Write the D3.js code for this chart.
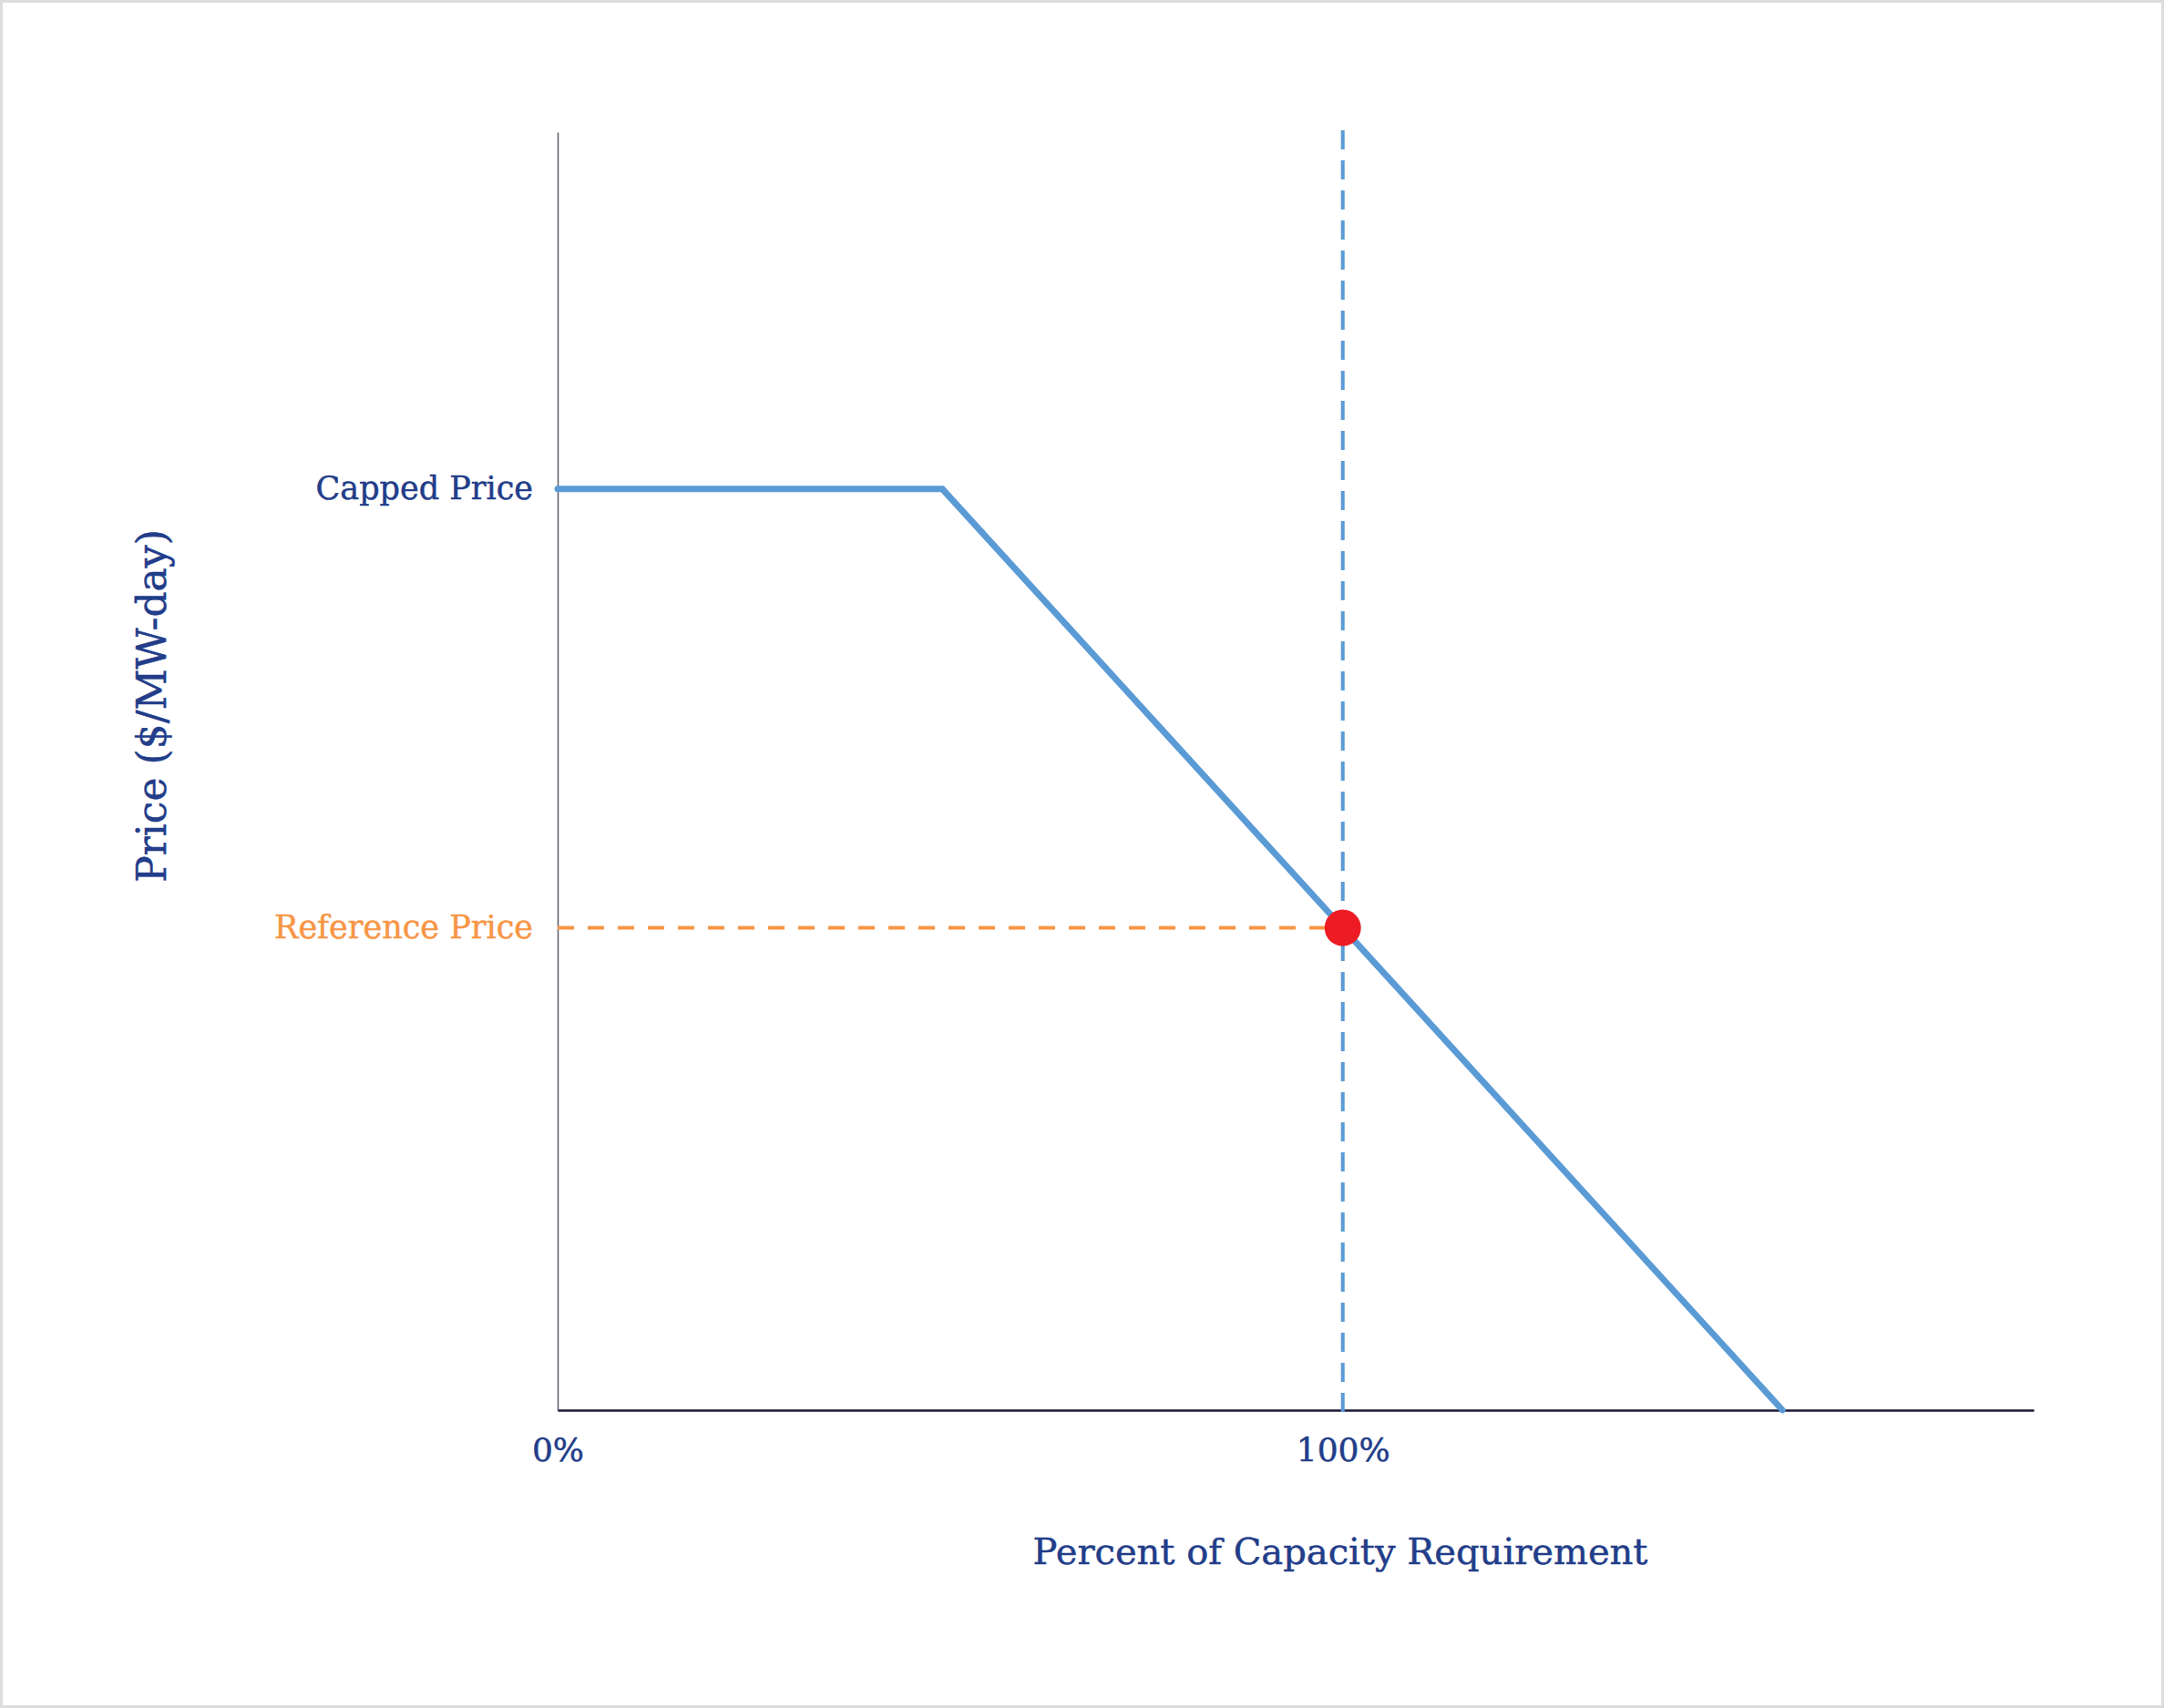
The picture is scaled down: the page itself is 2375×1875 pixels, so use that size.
<!DOCTYPE html>
<html>
<head>
<meta charset="utf-8">
<script src="https://cdn.jsdelivr.net/npm/d3@7"></script>
<style>
  body { margin: 0; background: #fff; }
  svg text { font-family: 'DejaVu Serif', serif; }
</style>
</head>
<body>
<div id="chart"></div>
<script>
// Demand curve: percent of capacity requirement vs price (relative to reference price)
const curvePct = [0, 49, 100, 156];
const curvePrice = [1.91, 1.91, 1.0, 0];

// Named price levels shown on the y axis
const priceLevels = [1.91, 1.0];
const priceLabels = ['Capped Price', 'Reference Price'];

// X ticks
const xTicks = [0, 100];

// Reference point
const refPoint = { pct: 100, price: 1.0 };

const width = 2375;
const height = 1875;
const margin = { top: 145, right: 143, bottom: 327, left: 612 };

const navy = '#223d89';
const orange = '#f79646';
const blue = '#5b9bd5';

const svg = d3.select('#chart')
    .append('svg')
    .attr('width', width)
    .attr('height', height);

// light frame around the page
svg.append('rect')
    .attr('x', 1.5)
    .attr('y', 1.5)
    .attr('width', width - 3)
    .attr('height', height - 3)
    .attr('fill', '#fff')
    .attr('stroke', '#dcdcdc')
    .attr('stroke-width', 3);

const x = d3.scaleLinear()
    .domain([0, 188])
    .range([margin.left, width - margin.right]);

const y = d3.scaleLinear()
    .domain([0, 2.65])
    .range([height - margin.bottom, margin.top]);

// y axis
const yAxis = svg.append('g')
    .attr('transform', `translate(${margin.left},0)`)
    .call(d3.axisLeft(y)
        .tickValues(priceLevels)
        .tickSize(0)
        .tickPadding(27)
        .tickFormat((d, i) => priceLabels[i]));

yAxis.select('.domain')
    .attr('stroke', '#5a5a66')
    .attr('stroke-width', 1.5);

yAxis.selectAll('text')
    .attr('font-size', 35)
    .attr('font-family', 'DejaVu Serif')
    .attr('fill', (d, i) => i === 0 ? navy : orange)
    .attr('stroke', (d, i) => i === 0 ? navy : orange)
    .attr('stroke-width', 0.5);

// x axis
const xAxis = svg.append('g')
    .attr('transform', `translate(0,${height - margin.bottom})`)
    .call(d3.axisBottom(x)
        .tickValues(xTicks)
        .tickSize(0)
        .tickPadding(30)
        .tickFormat(d => d + '%'));

xAxis.select('.domain')
    .attr('stroke', '#1c1a33')
    .attr('stroke-width', 2.5);

xAxis.selectAll('text')
    .attr('font-size', 36)
    .attr('font-family', 'DejaVu Serif')
    .attr('fill', navy)
    .attr('stroke', navy)
    .attr('stroke-width', 0.5);

// reference price guide (horizontal, orange)
svg.append('line')
    .attr('x1', x(0))
    .attr('x2', x(refPoint.pct))
    .attr('y1', y(refPoint.price))
    .attr('y2', y(refPoint.price))
    .attr('stroke', orange)
    .attr('stroke-width', 4)
    .attr('stroke-dasharray', '18,15');

// 100% requirement guide (vertical, blue)
svg.append('line')
    .attr('x1', x(refPoint.pct))
    .attr('x2', x(refPoint.pct))
    .attr('y1', y(0) + 2)
    .attr('y2', margin.top - 2)
    .attr('stroke', blue)
    .attr('stroke-width', 4)
    .attr('stroke-dasharray', '21,12');

// demand curve
const curve = curvePct.map((p, i) => [p, curvePrice[i]]);
svg.append('path')
    .datum(curve)
    .attr('fill', 'none')
    .attr('stroke', blue)
    .attr('stroke-width', 7)
    .attr('stroke-linecap', 'round')
    .attr('d', d3.line().x(d => x(d[0])).y(d => y(d[1])));

// reference point marker
svg.append('circle')
    .attr('cx', x(refPoint.pct))
    .attr('cy', y(refPoint.price))
    .attr('r', 20)
    .attr('fill', '#ed1c24');

// axis titles
svg.append('text')
    .attr('x', 1471)
    .attr('y', 1717)
    .attr('text-anchor', 'middle')
    .attr('font-size', 40)
    .attr('fill', navy)
    .attr('stroke', navy)
    .attr('stroke-width', 0.5)
    .text('Percent of Capacity Requirement');

svg.append('text')
    .attr('transform', 'rotate(-90)')
    .attr('x', -775)
    .attr('y', 182)
    .attr('text-anchor', 'middle')
    .attr('font-size', 44)
    .attr('fill', navy)
    .attr('stroke', navy)
    .attr('stroke-width', 0.5)
    .text('Price ($/MW-day)');
</script>
</body>
</html>
